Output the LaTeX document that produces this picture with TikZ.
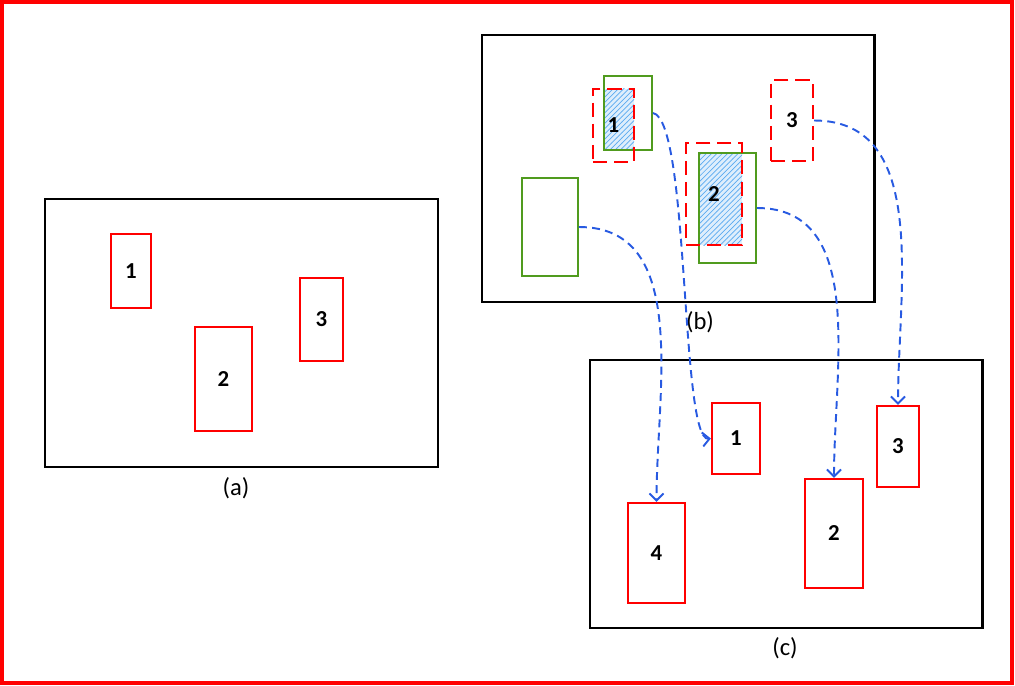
\documentclass[tikz,border=0pt]{standalone}
\usepackage{fontspec}
\setmainfont{Carlito}
\usetikzlibrary{positioning, fit, arrows.meta, patterns}

\definecolor{detgreen}{RGB}{80,155,30}
\definecolor{flowblue}{RGB}{40,90,225}
\definecolor{hatchblue}{RGB}{90,170,240}

\begin{document}
\begin{tikzpicture}[x=0.02cm, y=-0.02cm, >={Straight Barb[length=4pt, width=8pt]},
  every label/.append style={font=\fontsize{13}{15}\selectfont\bfseries, inner sep=0pt},
  panel/.style={draw=black, line width=1.7pt, inner sep=0pt},
  obj/.style={draw=red, line width=1.3pt, inner sep=0pt},
  oldobj/.style={obj, dash pattern=on 8pt off 4pt},
  detbox/.style={draw=detgreen, line width=1.1pt, inner sep=0pt},
  caption/.style={font=\fontsize{14}{16}\selectfont},
  flow/.style={->, draw=flowblue, line width=1.1pt, dash pattern=on 4.5pt off 3pt}]
\useasboundingbox (0,0) rectangle (1015,686);
\draw[red, line width=2.4pt] (2,2) rectangle (1012,683);

% (a) objects at time t
\node[panel, fit={(45,199) (438,467)}] (pa) {};
\node[obj, fit={(111,234) (151,308)}, label=center:1] (a1) {};
\node[obj, fit={(195,327) (252,431)}, label=center:2] (a2) {};
\node[obj, fit={(300,278) (343,361)}, label=center:3] (a3) {};
\node[caption] (capa) at (236,488) {(a)};

% (b) predicted vs detected
\node[panel, fit={(482,35) (874,302)}] (pb) {};
\fill[hatchblue!20] (604,89) rectangle (634,150);
\fill[pattern=north east lines, pattern color=hatchblue] (604,89) rectangle (634,150);
\fill[hatchblue!20] (699,153) rectangle (742,245);
\fill[pattern=north east lines, pattern color=hatchblue] (699,153) rectangle (742,245);
\node[detbox, fit={(604,76) (652,150)}] (g1) {};
\node[detbox, fit={(699,153) (756,263)}] (g2) {};
\node[detbox, fit={(522,178) (578,276)}] (g4) {};
\node[oldobj, fit={(593,89) (634,162)}, label=center:1] (b1) {};
\node[oldobj, fit={(686,143) (742,245)}, label=center:2] (b2) {};
\node[oldobj, fit={(771,80) (813,161)}, label=center:3] (b3) {};
\node[caption] (capb) at (700,322) {(b)};

% (c) objects at time t+1
\node[panel, fit={(590,360) (982,628)}] (pc) {};
\node[obj, fit={(712,403) (760,474)}, label=center:1] (c1) {};
\node[obj, fit={(805,479) (863,588)}, label=center:2] (c2) {};
\node[obj, fit={(877,406) (919,487)}, label=center:3] (c3) {};
\node[obj, fit={(628,503) (685,603)}, label=center:4] (c4) {};
\node[caption] (capc) at (785,648) {(c)};

\draw[flow] (g4.east) to[out=0, in=90] (c4.north);
\draw[flow] (g1.east) .. controls (690,120) and (680,442) .. (c1.west);
\draw[flow] (g2.east) to[out=0, in=90] (c2.north);
\draw[flow] (b3.east) to[out=0, in=90] (c3.north);
\end{tikzpicture}
\end{document}
